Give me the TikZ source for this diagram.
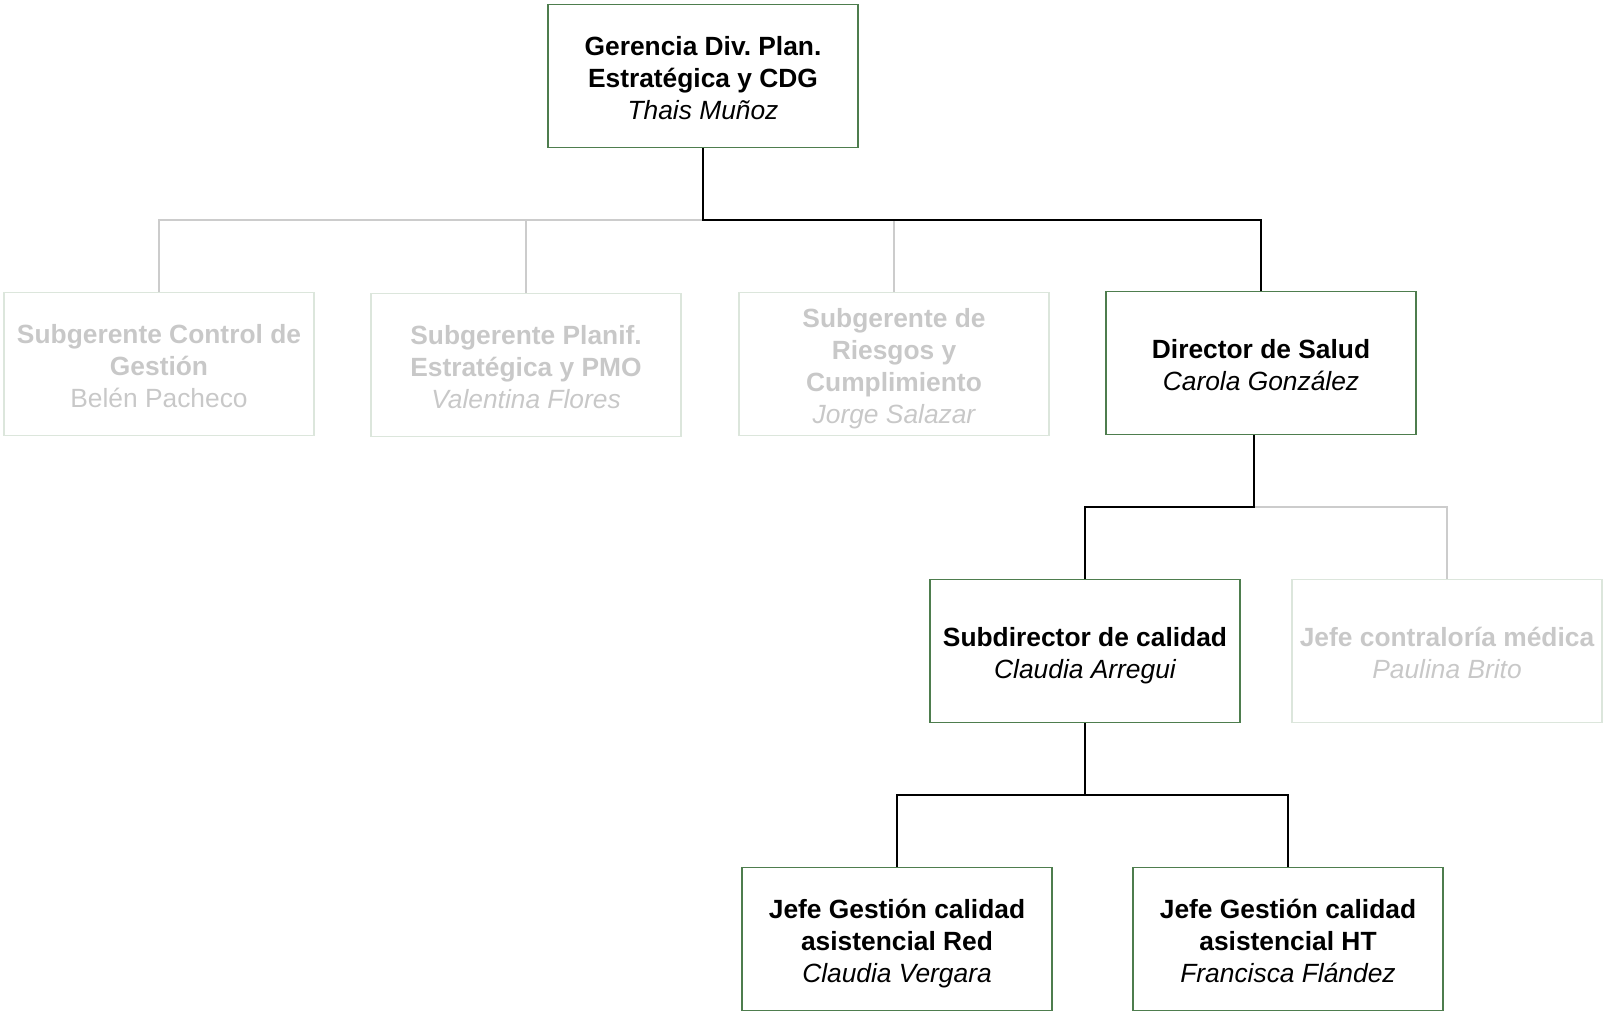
\documentclass[tikz,border=0pt]{standalone}
\usepackage{fontspec}
\setmainfont{Liberation Sans}
\definecolor{verde}{HTML}{4E7D4E}
\definecolor{grisborde}{HTML}{DCE6DC}
\definecolor{gristexto}{HTML}{C8C8C8}
\definecolor{grislinea}{HTML}{CCCCCC}
\newcommand{\arriba}{\rule{0pt}{18.4pt}}
\begin{document}
\begin{tikzpicture}[x=0.02cm, y=-0.02cm,
    cargo/.style={rectangle, draw=verde, line width=0.7pt, minimum width=6.2cm, minimum height=2.86cm, align=center, font=\fontsize{15}{18.2}\selectfont\frenchspacing, inner sep=0pt},
    cargooff/.style={cargo, draw=grisborde, text=gristexto},
    linea/.style={draw=black, line width=1.1pt},
    lineaoff/.style={draw=grislinea, line width=1.1pt}]
    \useasboundingbox (0,0) rectangle (1604,1012);

    % Nodos
    \node[cargo] (G) at (703,76) {\arriba\bfseries Gerencia Div. Plan.\\\bfseries Estratégica y CDG\\\itshape Thais Muñoz\strut};
    \node[cargooff] (SC) at (159,364) {\arriba\bfseries Subgerente Control de\\\bfseries Gestión\\Belén Pacheco\strut};
    \node[cargooff] (SP) at (526,365) {\arriba\bfseries Subgerente Planif.\\\bfseries Estratégica y PMO\\\itshape Valentina Flores\strut};
    \node[cargooff] (SR) at (894,364) {\arriba\bfseries Subgerente de\\\bfseries Riesgos y\\\bfseries Cumplimiento\\\itshape Jorge Salazar\strut};
    \node[cargo] (DS) at (1261,363) {\arriba\bfseries Director de Salud\\\itshape Carola González\strut};
    \node[cargo] (SD) at (1085,651) {\arriba\bfseries Subdirector de calidad\\\itshape Claudia Arregui\strut};
    \node[cargooff] (JC) at (1447,651) {\arriba\bfseries Jefe contraloría médica\\\itshape Paulina Brito\strut};
    \node[cargo] (JR) at (897,939) {\arriba\bfseries Jefe Gestión calidad\\\bfseries asistencial Red\\\itshape Claudia Vergara\strut};
    \node[cargo] (JH) at (1288,939) {\arriba\bfseries Jefe Gestión calidad\\\bfseries asistencial HT\\\itshape Francisca Flández\strut};

    % Conectores inactivos
    \draw[lineaoff] (G.south) -- ++(0,72) -| (SC.north);
    \draw[lineaoff] (G.south) -- ++(0,72) -| (SP.north);
    \draw[lineaoff] (G.south) -- ++(0,72) -| (SR.north);
    \draw[lineaoff] ([xshift=-4]DS.south) -- ++(0,72) -| (JC.north);

    % Conectores activos
    \draw[linea] (G.south) -- ++(0,72) -| (DS.north);
    \draw[linea] ([xshift=-4]DS.south) -- ++(0,72) -| (SD.north);
    \draw[linea] (SD.south) -- ++(0,72) -| (JR.north);
    \draw[linea] (SD.south) -- ++(0,72) -| (JH.north);
\end{tikzpicture}
\end{document}
